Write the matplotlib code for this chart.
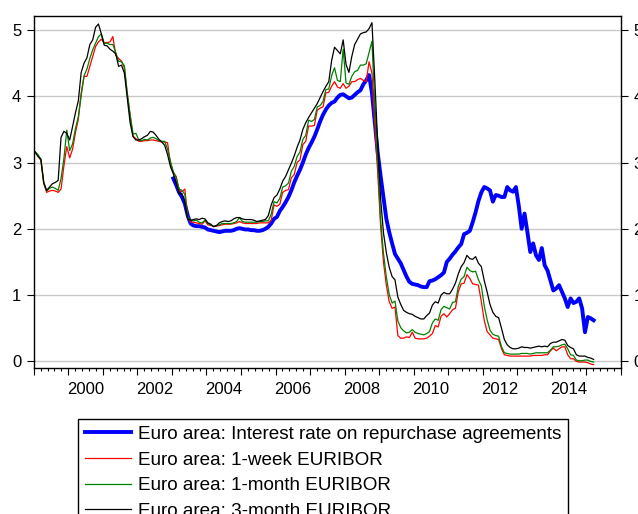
import numpy as np
import pandas as pd
import matplotlib.pyplot as plt
from matplotlib.ticker import MultipleLocator

plt.rcParams['font.family'] = ['Liberation Sans', 'DejaVu Sans']

# monthly averages, Jan 1999 - Mar 2015 (percent)
euribor_1w = [
    3.16, 3.10, 3.03, 2.68, 2.55, 2.57, 2.58, 2.57, 2.55, 2.60, 2.95, 3.24,  # 1999
    3.07, 3.20, 3.45, 3.65, 4.05, 4.30, 4.30, 4.45, 4.60, 4.75, 4.82, 4.86,  # 2000
    4.80, 4.81, 4.82, 4.90, 4.62, 4.57, 4.53, 4.43, 4.04, 3.71, 3.40, 3.36,  # 2001
    3.32, 3.32, 3.33, 3.33, 3.34, 3.34, 3.33, 3.32, 3.31, 3.31, 3.30, 2.98,  # 2002
    2.85, 2.79, 2.58, 2.56, 2.60, 2.18, 2.10, 2.10, 2.09, 2.08, 2.07, 2.12,  # 2003
    2.06, 2.05, 2.04, 2.04, 2.05, 2.06, 2.07, 2.07, 2.07, 2.08, 2.09, 2.11,  # 2004
    2.09, 2.08, 2.08, 2.08, 2.08, 2.08, 2.09, 2.09, 2.09, 2.09, 2.13, 2.36,  # 2005
    2.34, 2.37, 2.55, 2.58, 2.59, 2.77, 2.82, 3.00, 3.04, 3.27, 3.32, 3.55,  # 2006
    3.55, 3.56, 3.79, 3.82, 3.84, 4.05, 4.06, 4.15, 4.22, 4.14, 4.12, 4.19,  # 2007
    4.12, 4.15, 4.22, 4.22, 4.25, 4.27, 4.24, 4.22, 4.52, 4.35, 3.55, 2.85,  # 2008
    2.05, 1.50, 1.15, 0.90, 0.80, 0.82, 0.39, 0.35, 0.35, 0.37, 0.36, 0.44,  # 2009
    0.35, 0.34, 0.34, 0.34, 0.35, 0.38, 0.42, 0.54, 0.52, 0.68, 0.72, 0.67,  # 2010
    0.72, 0.78, 0.80, 1.05, 1.17, 1.18, 1.31, 1.25, 1.17, 1.16, 1.15, 0.90,  # 2011
    0.62, 0.45, 0.40, 0.35, 0.34, 0.33, 0.19, 0.10, 0.09, 0.08, 0.08, 0.08,  # 2012
    0.08, 0.08, 0.08, 0.08, 0.08, 0.09, 0.09, 0.09, 0.09, 0.10, 0.10, 0.16,  # 2013
    0.20, 0.16, 0.19, 0.22, 0.22, 0.10, 0.04, 0.04, 0.00, -0.01, -0.01, -0.01,  # 2014
    -0.02, -0.04, -0.05,  # 2015
]

euribor_1m = [
    3.16, 3.12, 3.05, 2.69, 2.57, 2.61, 2.63, 2.61, 2.58, 2.76, 3.06, 3.49,  # 1999
    3.18, 3.28, 3.51, 3.69, 4.01, 4.31, 4.41, 4.57, 4.70, 4.80, 4.90, 4.94,  # 2000
    4.80, 4.80, 4.78, 4.78, 4.66, 4.53, 4.52, 4.46, 4.05, 3.72, 3.43, 3.44,  # 2001
    3.34, 3.33, 3.35, 3.34, 3.37, 3.38, 3.36, 3.33, 3.32, 3.32, 3.20, 3.02,  # 2002
    2.86, 2.77, 2.60, 2.58, 2.52, 2.18, 2.13, 2.12, 2.13, 2.10, 2.09, 2.13,  # 2003
    2.08, 2.06, 2.04, 2.05, 2.06, 2.08, 2.08, 2.08, 2.08, 2.09, 2.11, 2.17,  # 2004
    2.11, 2.10, 2.10, 2.10, 2.10, 2.10, 2.11, 2.11, 2.12, 2.12, 2.22, 2.41,  # 2005
    2.39, 2.46, 2.63, 2.65, 2.69, 2.87, 2.94, 3.09, 3.16, 3.35, 3.41, 3.64,  # 2006
    3.62, 3.65, 3.84, 3.86, 3.92, 4.10, 4.11, 4.31, 4.43, 4.24, 4.22, 4.71,  # 2007
    4.20, 4.18, 4.30, 4.37, 4.39, 4.47, 4.47, 4.49, 4.66, 4.83, 3.84, 2.99,  # 2008
    2.14, 1.63, 1.27, 1.01, 0.88, 0.91, 0.61, 0.51, 0.46, 0.43, 0.44, 0.48,  # 2009
    0.44, 0.42, 0.41, 0.40, 0.42, 0.45, 0.58, 0.64, 0.62, 0.78, 0.83, 0.81,  # 2010
    0.79, 0.89, 0.90, 1.13, 1.24, 1.28, 1.42, 1.37, 1.35, 1.36, 1.23, 1.14,  # 2011
    0.84, 0.63, 0.47, 0.41, 0.39, 0.38, 0.22, 0.13, 0.12, 0.11, 0.11, 0.11,  # 2012
    0.11, 0.12, 0.12, 0.12, 0.11, 0.12, 0.13, 0.13, 0.13, 0.13, 0.13, 0.17,  # 2013
    0.22, 0.22, 0.23, 0.25, 0.26, 0.19, 0.10, 0.09, 0.02, 0.01, 0.01, 0.02,  # 2014
    0.02, 0.00, -0.01,  # 2015
]

euribor_3m = [
    3.16, 3.09, 3.05, 2.70, 2.58, 2.63, 2.68, 2.70, 2.73, 3.38, 3.47, 3.44,  # 1999
    3.34, 3.54, 3.75, 3.93, 4.36, 4.50, 4.58, 4.78, 4.85, 5.04, 5.09, 4.94,  # 2000
    4.77, 4.76, 4.71, 4.68, 4.64, 4.45, 4.47, 4.35, 3.98, 3.60, 3.39, 3.34,  # 2001
    3.34, 3.36, 3.39, 3.41, 3.47, 3.46, 3.41, 3.35, 3.31, 3.26, 3.12, 2.94,  # 2002
    2.83, 2.69, 2.53, 2.53, 2.40, 2.15, 2.13, 2.14, 2.15, 2.14, 2.16, 2.15,  # 2003
    2.09, 2.07, 2.03, 2.05, 2.09, 2.11, 2.12, 2.11, 2.12, 2.15, 2.17, 2.17,  # 2004
    2.15, 2.14, 2.14, 2.14, 2.13, 2.11, 2.12, 2.13, 2.14, 2.20, 2.36, 2.47,  # 2005
    2.51, 2.60, 2.72, 2.79, 2.89, 2.99, 3.10, 3.23, 3.34, 3.50, 3.60, 3.68,  # 2006
    3.75, 3.82, 3.89, 3.98, 4.07, 4.15, 4.22, 4.54, 4.74, 4.69, 4.64, 4.85,  # 2007
    4.48, 4.36, 4.60, 4.78, 4.86, 4.94, 4.96, 4.97, 5.02, 5.11, 4.24, 3.29,  # 2008
    2.46, 1.94, 1.64, 1.42, 1.28, 1.23, 0.97, 0.86, 0.77, 0.74, 0.72, 0.71,  # 2009
    0.68, 0.66, 0.64, 0.64, 0.69, 0.73, 0.85, 0.90, 0.88, 1.00, 1.04, 1.02,  # 2010
    1.02, 1.09, 1.18, 1.32, 1.43, 1.49, 1.60, 1.55, 1.54, 1.58, 1.48, 1.43,  # 2011
    1.22, 1.05, 0.86, 0.74, 0.68, 0.66, 0.50, 0.33, 0.25, 0.21, 0.19, 0.19,  # 2012
    0.20, 0.22, 0.21, 0.21, 0.20, 0.21, 0.22, 0.23, 0.22, 0.23, 0.22, 0.27,  # 2013
    0.29, 0.29, 0.31, 0.33, 0.32, 0.24, 0.21, 0.19, 0.10, 0.08, 0.08, 0.08,  # 2014
    0.06, 0.05, 0.03,  # 2015
]

# repo rate series starts Jan 2003
repo_rate = [
    2.76, 2.66, 2.55, 2.48, 2.38, 2.20, 2.08, 2.05, 2.04, 2.04, 2.03, 2.02,  # 2003
    1.99, 1.98, 1.97, 1.96, 1.95, 1.96, 1.97, 1.97, 1.97, 1.98, 2.00, 2.01,  # 2004
    2.00, 1.99, 1.99, 1.98, 1.98, 1.97, 1.97, 1.98, 2.00, 2.03, 2.08, 2.15,  # 2005
    2.18, 2.27, 2.33, 2.40, 2.48, 2.58, 2.70, 2.80, 2.89, 3.00, 3.12, 3.22,  # 2006
    3.30, 3.39, 3.50, 3.62, 3.72, 3.80, 3.86, 3.90, 3.92, 3.98, 4.02, 4.03,  # 2007
    4.00, 3.97, 3.98, 4.02, 4.06, 4.09, 4.18, 4.24, 4.32, 4.05, 3.60, 3.15,  # 2008
    2.80, 2.48, 2.15, 1.95, 1.78, 1.62, 1.55, 1.48, 1.38, 1.28, 1.20, 1.17,  # 2009
    1.16, 1.15, 1.13, 1.12, 1.12, 1.21, 1.22, 1.24, 1.27, 1.30, 1.34, 1.50,  # 2010
    1.55, 1.61, 1.66, 1.72, 1.77, 1.92, 1.94, 1.97, 2.10, 2.25, 2.42, 2.55,  # 2011
    2.63, 2.61, 2.58, 2.41, 2.51, 2.50, 2.48, 2.48, 2.63, 2.58, 2.56, 2.63,  # 2012
    2.35, 2.00, 2.23, 1.95, 1.65, 1.78, 1.60, 1.53, 1.71, 1.45, 1.37, 1.22,  # 2013
    1.07, 1.10, 1.15, 1.05, 0.95, 0.82, 0.95, 0.88, 0.90, 0.95, 0.80, 0.44,  # 2014
    0.67, 0.65, 0.62,  # 2015
]

labels = ['Euro area: Interest rate on repurchase agreements',
          'Euro area: 1-week EURIBOR',
          'Euro area: 1-month EURIBOR',
          'Euro area: 3-month EURIBOR']
year_labels = [2000, 2002, 2004, 2006, 2008, 2010, 2012, 2014]

m = pd.period_range('1999-01', periods=len(euribor_3m), freq='M')
t = np.asarray(m.year + (m.month - 0.5) / 12)
mr = pd.period_range('2003-01', periods=len(repo_rate), freq='M')
t_repo = np.asarray(mr.year + (mr.month - 0.5) / 12)

fig = plt.figure(figsize=(6.38, 5.14), dpi=100)
ax = fig.add_axes([0.0528, 0.284, 0.9205, 0.6848])

ax.plot(t_repo, repo_rate, color='#0000ff', lw=2.8, label=labels[0])
ax.plot(t, euribor_1w, color='#ff0000', lw=0.9, label=labels[1])
ax.plot(t, euribor_1m, color='#008000', lw=0.9, label=labels[2])
ax.plot(t, euribor_3m, color='black', lw=0.9, label=labels[3])

ax.set_xlim(1999, 2016)
ax.set_ylim(-0.1, 5.21)
ax.set_yticks(range(6))
ax.yaxis.grid(True, color='#c8c8c8', lw=1)
ax.set_axisbelow(True)
for s in ax.spines.values():
    s.set_linewidth(1.0)

ax.tick_params(axis='y', left=True, right=True, labelleft=True, labelright=True,
               length=5, width=0.8, labelsize=12, pad=4)
ax.xaxis.set_major_locator(MultipleLocator(1))
ax.xaxis.set_minor_locator(MultipleLocator(0.2))
ax.tick_params(axis='x', which='major', length=5, width=0.8, labelbottom=False)
ax.tick_params(axis='x', which='minor', length=2.5, width=0.8)

# year labels sit in the middle of each year
sec = ax.secondary_xaxis('bottom')
sec.set_xticks([y + 0.5 for y in year_labels], labels=[str(y) for y in year_labels])
sec.tick_params(length=0, pad=10, labelsize=12)
sec.spines['bottom'].set_visible(False)

leg = fig.legend(loc='upper left', bbox_to_anchor=(78.3 / 638, 1 - 419 / 514),
                 frameon=True, fancybox=False, edgecolor='black', framealpha=1,
                 fontsize=13.6, handlelength=2.45, handletextpad=0.35,
                 borderpad=0.35, labelspacing=0.45, borderaxespad=0)
leg.get_frame().set_linewidth(1.0)

fig.savefig('out.png', dpi=100)
